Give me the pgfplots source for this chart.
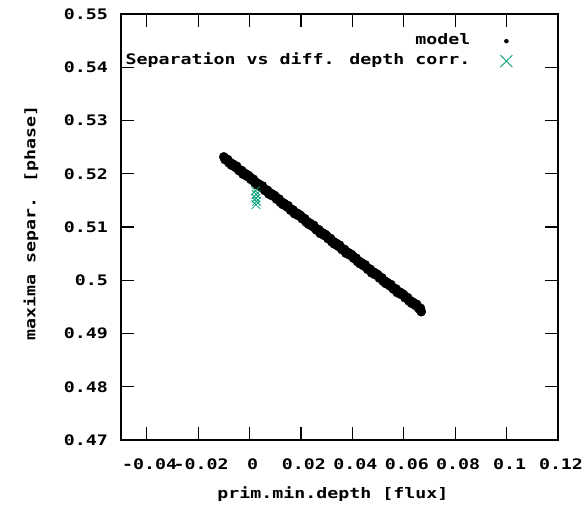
\documentclass[border=0pt]{standalone}
\usepackage{fontspec}
\usepackage{pgfplots}
\pgfplotsset{compat=1.18}
\newfontfamily\gp[FakeStretch=1.26]{DejaVu Sans Mono}
\newcommand\gpfont{\gp\bfseries\fontsize{14.5bp}{17bp}\selectfont}
\definecolor{gpgreen}{HTML}{009E73}
\pgfplotstableread{
x y
-0.0100 0.52317
-0.0095 0.52264
-0.0090 0.52270
-0.0085 0.52267
-0.0080 0.52203
-0.0075 0.52210
-0.0070 0.52161
-0.0065 0.52183
-0.0060 0.52149
-0.0055 0.52121
-0.0050 0.52142
-0.0045 0.52089
-0.0040 0.52055
-0.0035 0.52067
-0.0030 0.52058
-0.0025 0.51990
-0.0020 0.52006
-0.0015 0.51998
-0.0010 0.51954
-0.0005 0.51971
0.0000 0.51947
0.0005 0.51894
0.0010 0.51900
0.0015 0.51897
0.0020 0.51833
0.0025 0.51839
0.0030 0.51791
0.0035 0.51812
0.0040 0.51779
0.0045 0.51750
0.0050 0.51772
0.0055 0.51718
0.0060 0.51685
0.0065 0.51696
0.0070 0.51688
0.0075 0.51619
0.0080 0.51636
0.0085 0.51627
0.0090 0.51584
0.0095 0.51600
0.0100 0.51577
0.0105 0.51523
0.0110 0.51530
0.0115 0.51526
0.0120 0.51463
0.0125 0.51469
0.0130 0.51421
0.0135 0.51442
0.0140 0.51408
0.0145 0.51380
0.0150 0.51401
0.0155 0.51348
0.0160 0.51314
0.0165 0.51326
0.0170 0.51317
0.0175 0.51249
0.0180 0.51265
0.0185 0.51257
0.0190 0.51213
0.0195 0.51230
0.0200 0.51206
0.0205 0.51153
0.0210 0.51159
0.0215 0.51156
0.0220 0.51092
0.0225 0.51099
0.0230 0.51050
0.0235 0.51072
0.0240 0.51038
0.0245 0.51010
0.0250 0.51031
0.0255 0.50978
0.0260 0.50944
0.0265 0.50956
0.0270 0.50947
0.0275 0.50879
0.0280 0.50895
0.0285 0.50887
0.0290 0.50843
0.0295 0.50860
0.0300 0.50836
0.0305 0.50782
0.0310 0.50789
0.0315 0.50785
0.0320 0.50722
0.0325 0.50728
0.0330 0.50680
0.0335 0.50701
0.0340 0.50668
0.0345 0.50639
0.0350 0.50661
0.0355 0.50607
0.0360 0.50574
0.0365 0.50585
0.0370 0.50577
0.0375 0.50508
0.0380 0.50525
0.0385 0.50516
0.0390 0.50472
0.0395 0.50489
0.0400 0.50465
0.0405 0.50412
0.0410 0.50418
0.0415 0.50415
0.0420 0.50351
0.0425 0.50358
0.0430 0.50309
0.0435 0.50331
0.0440 0.50297
0.0445 0.50269
0.0450 0.50290
0.0455 0.50237
0.0460 0.50203
0.0465 0.50215
0.0470 0.50206
0.0475 0.50138
0.0480 0.50154
0.0485 0.50146
0.0490 0.50102
0.0495 0.50119
0.0500 0.50095
0.0505 0.50042
0.0510 0.50048
0.0515 0.50045
0.0520 0.49981
0.0525 0.49988
0.0530 0.49939
0.0535 0.49961
0.0540 0.49927
0.0545 0.49898
0.0550 0.49920
0.0555 0.49866
0.0560 0.49833
0.0565 0.49844
0.0570 0.49836
0.0575 0.49767
0.0580 0.49784
0.0585 0.49775
0.0590 0.49732
0.0595 0.49748
0.0600 0.49725
0.0605 0.49671
0.0610 0.49678
0.0615 0.49674
0.0620 0.49611
0.0625 0.49617
0.0630 0.49569
0.0635 0.49590
0.0640 0.49556
0.0645 0.49528
0.0650 0.49549
0.0655 0.49496
0.0660 0.49462
0.0665 0.49474
0.0668 0.49410
}\modeldata
\begin{document}
\begin{tikzpicture}
\begin{axis}[
  name=ax,
  scale only axis, width=437bp, height=426bp,
  xmin=-0.05, xmax=0.12, ymin=0.47, ymax=0.55,
  xtick={-0.04,-0.02,0,0.02,0.04,0.06,0.08,0.1,0.12},
  xticklabels={-0.04,-0.02,0,0.02,0.04,0.06,0.08,0.1,0.12},
  ytick={0.47,0.48,0.49,0.50,0.51,0.52,0.53,0.54,0.55},
  yticklabels={0.47,0.48,0.49,0.5,0.51,0.52,0.53,0.54,0.55},
  tick align=inside, major tick length=12.7bp,
  tick style={line width=1.2bp, black},
  axis line style={line width=1.2bp, black},
  ticklabel style={font=\gpfont},
  xticklabel style={inner sep=0pt, anchor=north, yshift=-19bp, xshift=3bp},
  yticklabel style={inner sep=0pt, anchor=east, xshift=-13bp},
  xlabel={prim.min.depth [flux]},
  ylabel={maxima separ. [phase]},
  label style={font=\gpfont},
  xlabel style={at={(axis description cs:0.485,-0.127)}, anchor=center},
  ylabel style={at={(axis description cs:-0.206,0.51)}, anchor=center},
  legend plot pos=right, legend cell align=right,
  legend style={at={(axis description cs:0.897,0.952)}, anchor=north east,
    draw=none, fill=none, inner sep=0pt, font=\gpfont, row sep=7bp,
    nodes={inner sep=0pt, text height=10bp, text depth=3bp}},
]
\addplot[only marks, mark=*, mark size=4.6bp, black,
  legend image code/.code={\path[draw=none] (0,0) -- (30bp,0); \fill[black] (36bp,0) circle (2bp);}]
  table[x=x, y=y] {\modeldata};
\addlegendentry{model}
\addplot[only marks, mark=x, mark size=6bp, gpgreen, mark options={line width=0.8bp},
  legend image code/.code={\path[draw=none] (0,0) -- (30bp,0); \draw[gpgreen, line width=0.8bp] (30bp,-6bp) -- (42bp,6bp) (30bp,6bp) -- (42bp,-6bp);}]
  coordinates {(0.0023,0.5168) (0.0026,0.5161) (0.0025,0.5154) (0.0027,0.5148) (0.0025,0.5142)};
\addlegendentry{Separation vs diff. depth corr.}
\end{axis}
\pgfresetboundingbox
\path[use as bounding box] (ax.south west) ++(-121bp,-66bp) rectangle ++(588bp,506bp);
\end{tikzpicture}
\end{document}
